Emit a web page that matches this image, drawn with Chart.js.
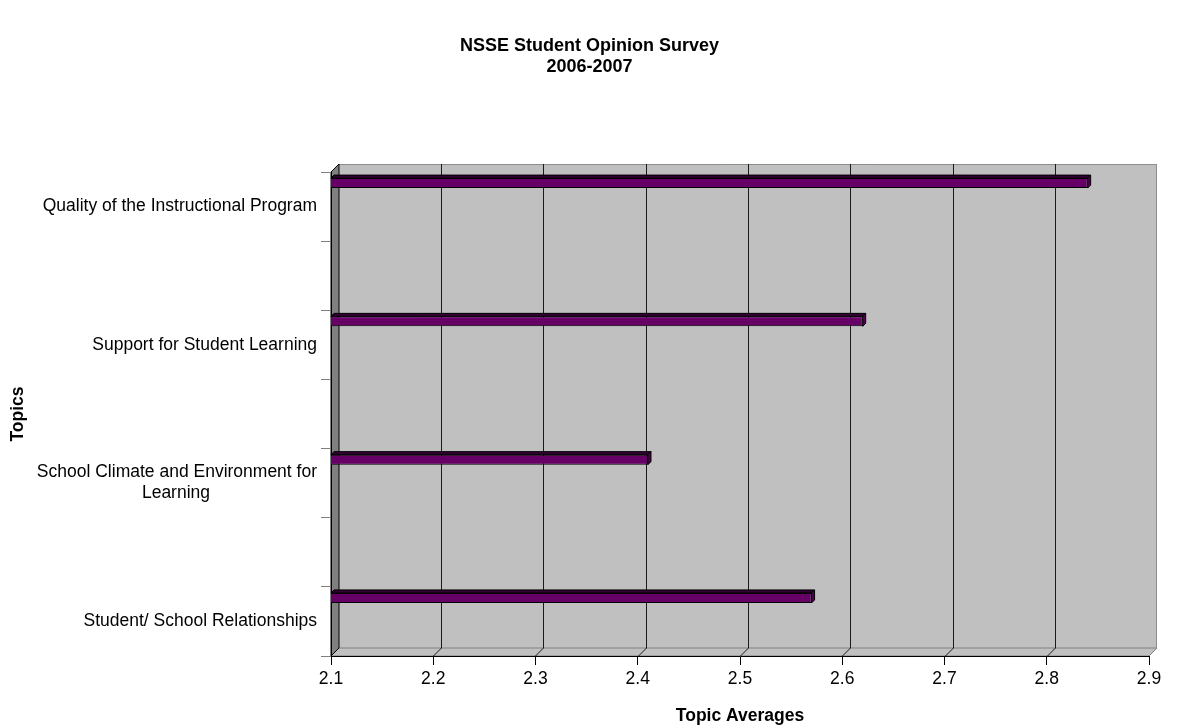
<!DOCTYPE html>
<html>
<head>
<meta charset="utf-8">
<script src="https://cdn.jsdelivr.net/npm/chart.js@4.4.0/dist/chart.umd.min.js"></script>
<style>
  body { margin: 0; background: #fff; }
  #wrap { width: 1178px; height: 727px; }
</style>
</head>
<body>
<div id="wrap"><canvas id="chart" width="1178" height="727"></canvas></div>
<script>
// categories (blank slots sit between the topics, as in the original sheet)
const topics = [
  "Quality of the Instructional Program",
  "",
  "Support for Student Learning",
  "",
  ["School Climate and Environment for", "Learning" + " ".repeat(22)],
  "",
  "Student/ School Relationships"
];
const topicAverages = [2.84, null, 2.62, null, 2.41, null, 2.57];
const tickValues = [2.1, 2.2, 2.3, 2.4, 2.5, 2.6, 2.7, 2.8, 2.9];
const titleLines = ["NSSE Student Opinion Survey", "2006-2007"];

const FONT = "'Liberation Sans', Arial, Helvetica, sans-serif";
const DEPTH = 8;     // depth of the 3d walls
const BAR_DEPTH = 3; // depth of the bars

// grey walls + floor behind everything
const wall3d = {
  id: "wall3d",
  beforeDraw(chart) {
    const { ctx, chartArea: a, scales: { x } } = chart;
    const d = DEPTH;
    ctx.save();
    ctx.lineWidth = 1;

    // back wall
    ctx.fillStyle = "#c0c0c0";
    ctx.fillRect(a.left + d, a.top - d, a.right - a.left, a.bottom - a.top);

    // floor
    ctx.beginPath();
    ctx.moveTo(a.left, a.bottom);
    ctx.lineTo(a.left + d, a.bottom - d);
    ctx.lineTo(a.right + d, a.bottom - d);
    ctx.lineTo(a.right, a.bottom);
    ctx.closePath();
    ctx.fill();
    ctx.strokeStyle = "#808080";
    ctx.stroke();

    // back wall outline (top + right)
    ctx.beginPath();
    ctx.moveTo(a.left + d, a.top - d + 0.5);
    ctx.lineTo(a.right + d - 0.5, a.top - d + 0.5);
    ctx.lineTo(a.right + d - 0.5, a.bottom - d);
    ctx.strokeStyle = "#8c8c8c";
    ctx.stroke();

    // vertical grid lines on the wall and floor
    ctx.strokeStyle = "#1a1a1a";
    tickValues.slice(1, -1).forEach((v) => {
      const px = Math.round(x.getPixelForValue(v)) + 0.5;
      ctx.beginPath();
      ctx.moveTo(px + d, a.top - d);
      ctx.lineTo(px + d, a.bottom - d);
      ctx.moveTo(px, a.bottom);
      ctx.lineTo(px + d, a.bottom - d);
      ctx.stroke();
    });

    // left side wall
    ctx.beginPath();
    ctx.moveTo(a.left, a.top);
    ctx.lineTo(a.left + d, a.top - d);
    ctx.lineTo(a.left + d, a.bottom - d);
    ctx.lineTo(a.left, a.bottom);
    ctx.closePath();
    ctx.fillStyle = "#808080";
    ctx.fill();
    ctx.strokeStyle = "#000";
    ctx.stroke();
    ctx.restore();
  }
};

// top and end faces of the bars
const bar3d = {
  id: "bar3d",
  afterDatasetsDraw(chart) {
    const { ctx, scales: { x: xs } } = chart;
    const d = BAR_DEPTH;
    const base = xs.getPixelForValue(tickValues[0]);
    ctx.save();
    ctx.lineWidth = 1;
    ctx.strokeStyle = "#000";
    chart.getDatasetMeta(0).data.forEach((bar, i) => {
      if (topicAverages[i] == null) return;
      const { x, y, height } = bar.getProps(["x", "y", "height"], true);
      const t = y - height / 2;
      const b = y + height / 2;
      ctx.beginPath();
      ctx.moveTo(base, t);
      ctx.lineTo(base + d, t - d);
      ctx.lineTo(x + d, t - d);
      ctx.lineTo(x, t);
      ctx.closePath();
      ctx.fillStyle = "#330033";
      ctx.fill();
      ctx.stroke();
      ctx.beginPath();
      ctx.moveTo(x, t);
      ctx.lineTo(x + d, t - d);
      ctx.lineTo(x + d, b - d);
      ctx.lineTo(x, b);
      ctx.closePath();
      ctx.fillStyle = "#4d004d";
      ctx.fill();
      ctx.stroke();
    });
    ctx.restore();
  }
};

// empty series keep the real bar in the top part of its slot
const spacer = () => ({ data: [], backgroundColor: "transparent" });

new Chart(document.getElementById("chart"), {
  type: "bar",
  data: {
    labels: topics,
    datasets: [
      {
        label: "Topic Averages",
        data: topicAverages,
        backgroundColor: "#660066",
        borderColor: "#000",
        borderWidth: 1,
        borderSkipped: false
      },
      spacer(), spacer(), spacer(), spacer()
    ]
  },
  options: {
    indexAxis: "y",
    responsive: false,
    animation: false,
    devicePixelRatio: 1,
    layout: { padding: { left: 0, right: 29, top: 0, bottom: 0 } },
    datasets: { bar: { categoryPercentage: 0.85, barPercentage: 0.85 } },
    plugins: {
      legend: { display: false },
      tooltip: { enabled: false },
      title: {
        display: true,
        // leading spaces nudge the centred title over the full page width
        text: titleLines.map((t) => " ".repeat(6) + t),
        color: "#000",
        font: { family: FONT, size: 18, weight: "bold", lineHeight: 1.17 },
        padding: { top: 35.5, bottom: 94.4 }
      }
    },
    scales: {
      x: {
        type: "linear",
        min: 2.1,
        max: 2.9,
        afterBuildTicks: (s) => { s.ticks = tickValues.map((v) => ({ value: v })); },
        afterFit: (s) => { s.height = 71; },
        grid: { drawOnChartArea: false, drawTicks: true, tickLength: 9, color: "#000" },
        border: { display: true, color: "#000" },
        ticks: {
          color: "#000",
          padding: 3.5,
          font: { family: FONT, size: 17.5 },
          callback: (v) => v.toFixed(1)
        },
        title: {
          display: true,
          text: "Topic Averages",
          color: "#000",
          font: { family: FONT, size: 17.5, weight: "bold" },
          padding: { top: 0, bottom: 0 }
        }
      },
      y: {
        afterFit: (s) => { s.width = 331; },
        grid: { drawOnChartArea: false, drawTicks: true, tickLength: 10, color: "#808080", offset: true },
        border: { display: true, color: "#000" },
        ticks: {
          color: "#000",
          padding: 4,
          autoSkip: false,
          font: { family: FONT, size: 17.5 }
        },
        title: {
          display: true,
          text: "Topics",
          color: "#000",
          font: { family: FONT, size: 17.5, weight: "bold" },
          padding: { top: 8, bottom: 0 }
        }
      }
    }
  },
  plugins: [wall3d, bar3d]
});
</script>
</body>
</html>
